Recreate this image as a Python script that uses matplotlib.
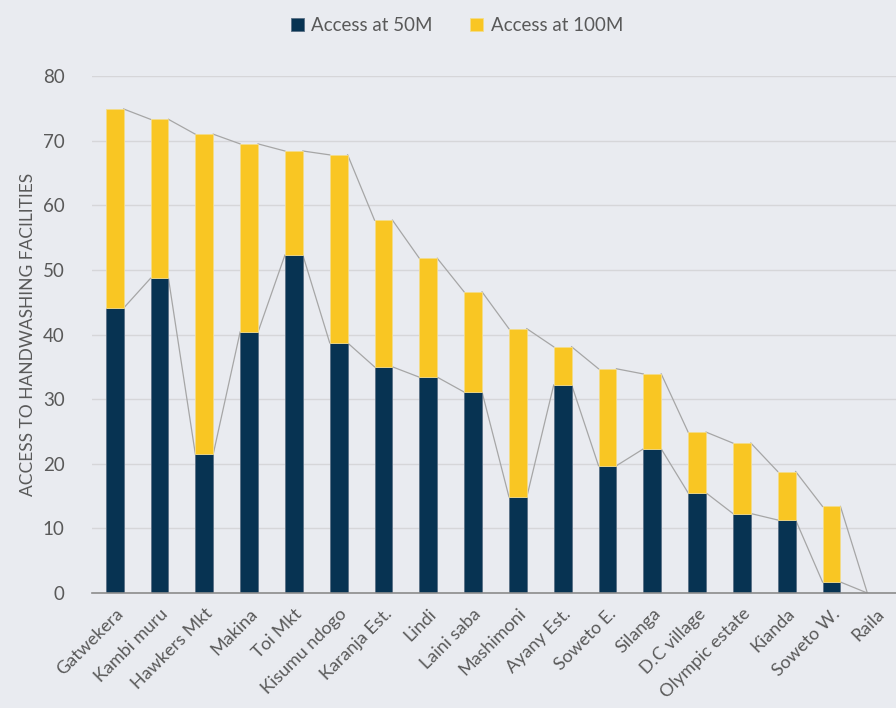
import numpy as np
import matplotlib.pyplot as plt

places = ["Gatwekera", "Kambi muru", "Hawkers Mkt", "Makina", "Toi Mkt", "Kisumu ndogo",
          "Karanja Est.", "Lindi", "Laini saba", "Mashimoni", "Ayany Est.", "Soweto E.",
          "Silanga", "D.C village", "Olympic estate", "Kianda", "Soweto W.", "Raila"]
access_50m = [44.1, 48.7, 21.5, 40.4, 52.3, 38.7, 35.0, 33.4, 31.1, 14.9, 32.2, 19.7,
              22.3, 15.5, 12.3, 11.3, 1.7, 0.0]
access_total = [74.9, 73.3, 71.0, 69.5, 68.4, 67.8, 57.7, 51.8, 46.6, 40.9, 38.1, 34.7,
                33.9, 24.9, 23.2, 18.8, 13.4, 0.0]

navy = "#073352"
yellow = "#f9c623"
bg = "#e9ebf0"
txt = "#595959"

plt.rcParams['font.family'] = ['Lato', 'DejaVu Sans']

a50 = np.array(access_50m)
tot = np.array(access_total)
a100 = tot - a50
x = np.arange(len(places))
w = 0.4

fig = plt.figure(figsize=(8.96, 7.08), dpi=100, facecolor=bg)
ax = fig.add_axes([0.103, 0.1624, 0.9, 0.7302], facecolor=bg)

ax.bar(x, a50, width=w, color=navy, edgecolor="#5a7085", linewidth=0.6, label="Access at 50M", zorder=3)
ax.bar(x, a100, width=w, bottom=a50, color=yellow, edgecolor="#f3dc8a", linewidth=0.6,
       label="Access at 100M", zorder=3)

# series lines between bars
for i in range(len(x) - 1):
    for s in (a50, tot):
        ax.plot([x[i] + w / 2, x[i + 1] - w / 2], [s[i], s[i + 1]], color="#a6a6a6",
                linewidth=0.9, zorder=2)

ax.set_xlim(-0.5, len(x) - 0.5)
ax.set_ylim(0, 80)
ax.set_yticks(range(0, 81, 10))
ax.yaxis.grid(True, color="#d6d6d9", linewidth=1, zorder=0)
ax.set_axisbelow(True)
for sp in ["top", "right", "left"]:
    ax.spines[sp].set_visible(False)
ax.spines["bottom"].set_color("#8c8c8c")
ax.spines["bottom"].set_linewidth(1.2)
ax.spines["bottom"].set_zorder(4)
ax.tick_params(axis="both", length=0, colors=txt)
ax.tick_params(axis="y", labelsize=13.5, pad=20)
ax.set_xticks(x)
ax.set_xticklabels(places, rotation=45, ha="right", rotation_mode="anchor", fontsize=13, color=txt)
ax.tick_params(axis="x", pad=9)
ax.set_ylabel("ACCESS TO HANDWASHING FACILITIES", fontsize=12.5, color=txt, labelpad=5)

fig.legend(loc="upper center", bbox_to_anchor=(0.51, 1.0), ncol=2, frameon=False,
           fontsize=13.5, labelcolor=txt, handlelength=0.7, handleheight=0.7,
           columnspacing=2.0, handletextpad=0.4)

fig.savefig("out.png", dpi=100, facecolor=bg)
